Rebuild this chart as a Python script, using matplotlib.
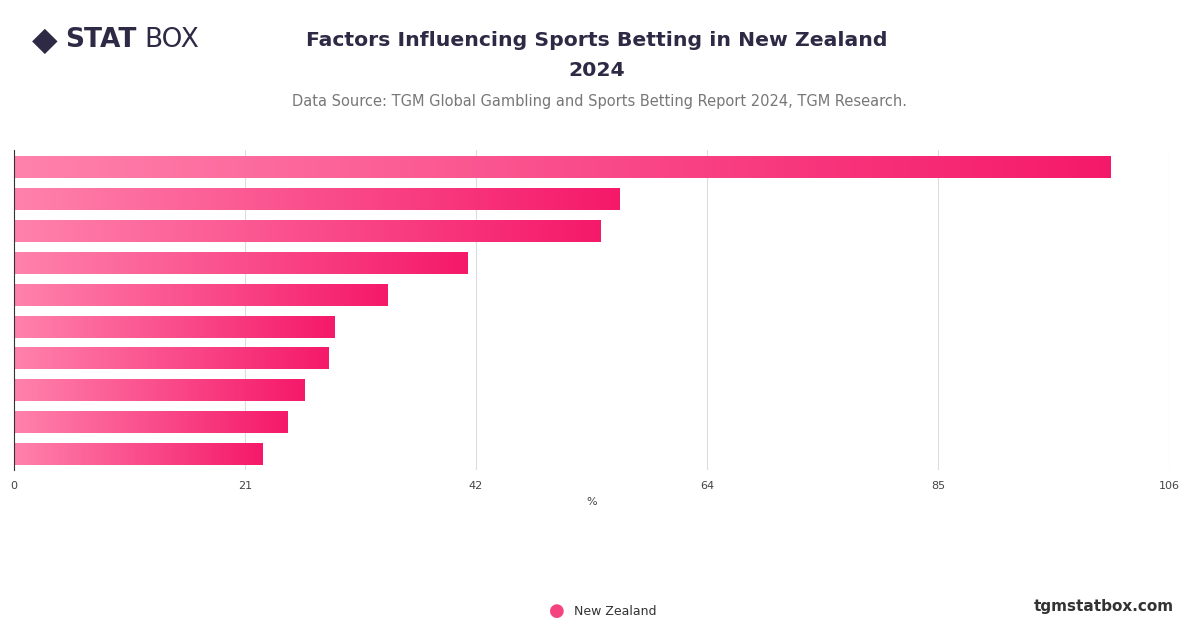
import numpy as np
import matplotlib.pyplot as plt
from matplotlib.colors import LinearSegmentedColormap

values = [100.6, 55.6, 53.8, 41.6, 34.3, 29.4, 28.9, 26.7, 25.1, 22.8]
tick_vals = [0, 21.2, 42.4, 63.6, 84.8, 106]
tick_labels = ["0", "21", "42", "64", "85", "106"]

fig = plt.figure(figsize=(12, 6.28), dpi=100)
ax = fig.add_axes([14/1200, 1 - 470/628, 1155/1200, 320/628])

cmap = LinearSegmentedColormap.from_list("pk", ["#ff82ac", "#f5196a"])
grad = np.linspace(0, 1, 256).reshape(1, -1)
n = len(values)
for i, v in enumerate(values):
    y = n - 1 - i
    ax.imshow(grad, cmap=cmap, aspect="auto", extent=(0, v, y - 0.34, y + 0.34), zorder=2)

ax.set_xlim(0, 106)
ax.set_ylim(-0.5, n - 0.5 + 0.05)
ax.set_xticks(tick_vals)
ax.set_xticklabels(tick_labels, fontsize=8, color="#444444")
ax.set_yticks([])
ax.tick_params(axis="x", length=0, pad=8)
for x in tick_vals[1:]:
    ax.axvline(x, color="#dddddd", lw=0.8, zorder=1)
for s in ["top", "right", "bottom"]:
    ax.spines[s].set_visible(False)
ax.spines["left"].set_color("#333333")
ax.spines["left"].set_linewidth(0.8)
ax.set_xlabel("%", fontsize=8, color="#444444", labelpad=4)

fig.text(0.497, 0.912, "Factors Influencing Sports Betting in New Zealand\n2024",
         ha="center", va="center", fontsize=14.7, fontweight="bold", color="#2e2a45",
         linespacing=1.75)
fig.text(0.5, 0.838, "Data Source: TGM Global Gambling and Sports Betting Report 2024, TGM Research.",
         ha="center", va="center", fontsize=10.5, color="#777777")

# logo
fig.text(0.037, 0.936, "◆", ha="center", va="center", fontsize=24, color="#2e2a45")
fig.text(0.054, 0.936, "STAT", ha="left", va="center", fontsize=19, fontweight="bold", color="#2e2a45")
fig.text(0.12, 0.936, "BOX", ha="left", va="center", fontsize=19, color="#2e2a45")

fig.text(0.978, 0.035, "tgmstatbox.com", ha="right", va="center", fontsize=11,
         fontweight="bold", color="#333333")
fig.text(0.464, 0.027, "●", ha="center", va="center", fontsize=13, color="#f5437f")
fig.text(0.478, 0.027, "New Zealand", ha="left", va="center", fontsize=9, color="#333333")

fig.savefig("out.png", dpi=100, facecolor="white")
